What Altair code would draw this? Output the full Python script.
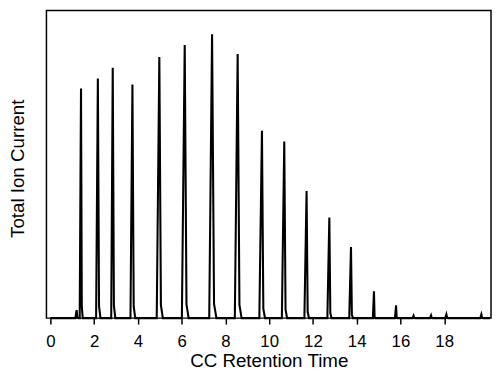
import altair as alt
import pandas as pd

# Peak retention times (min) and relative heights (% of full scale)
peak_times = [1.20, 1.40, 2.17, 2.85, 3.75, 4.98, 6.14, 7.39, 8.56, 9.67,
              10.69, 11.71, 12.75, 13.74, 14.79, 15.80, 16.6, 17.4, 18.1, 19.7]
peak_heights = [2.6, 74.7, 77.9, 81.4, 76.0, 84.9, 88.8, 92.3, 85.9, 60.9,
                57.4, 41.3, 32.7, 23.1, 8.7, 4.2, 0.8, 0.9, 1.2, 1.2]
# leading / tailing half-widths of each peak (min)
peak_lead = [0.06, 0.06, 0.08, 0.07, 0.09, 0.12, 0.13, 0.13, 0.13, 0.12,
             0.11, 0.10, 0.09, 0.08, 0.05, 0.05, 0.05, 0.05, 0.05, 0.05]
peak_tail = [0.08, 0.08, 0.12, 0.12, 0.13, 0.16, 0.18, 0.2, 0.18, 0.14,
             0.13, 0.11, 0.1, 0.09, 0.06, 0.06, 0.08, 0.08, 0.08, 0.08]

x_ticks = [0, 2, 4, 6, 8, 10, 12, 14, 16, 18]
run_start, run_end = 0.0, 20.1

rows = [(run_start, 0.0)]
for t, h, a, b in zip(peak_times, peak_heights, peak_lead, peak_tail):
    rows += [(t - a, 0.0), (t, h), (t + b * 0.45, h * 0.05), (t + b, 0.0)]
rows.append((run_end, 0.0))
df = pd.DataFrame(rows, columns=["time", "tic"])
df["order"] = range(len(df))

chart = alt.Chart(df).mark_line(color="black", strokeWidth=2.1, interpolate="linear").encode(
    x=alt.X("time:Q",
            scale=alt.Scale(domain=[-0.18, 20.14], nice=False, zero=False),
            axis=alt.Axis(title="CC Retention Time", values=x_ticks, tickSize=6,
                          tickColor="black", tickWidth=1.5, domain=False, grid=False,
                          labelFontSize=17, labelColor="black", labelPadding=10,
                          titleFontSize=19, titleFontWeight="normal", titleColor="black",
                          titleBaseline="alphabetic", titleY=49,
                          labelFont="Liberation Sans", titleFont="Liberation Sans")),
    y=alt.Y("tic:Q",
            scale=alt.Scale(domain=[0, 100], nice=False),
            axis=alt.Axis(title="Total Ion Current", labels=False, ticks=False,
                          domain=False, grid=False, titleFontSize=19,
                          titleFontWeight="normal", titleColor="black",
                          titleBaseline="alphabetic", titlePadding=23, titleY=160,
                          titleFont="Liberation Sans")),
    order="order:Q",
).properties(
    width=451, height=312,
    autosize=alt.AutoSizeParams(type="none"),
    padding={"left": 39, "top": 0, "right": 1, "bottom": 50},
).configure_view(stroke="black", strokeWidth=1.5)

chart.save("out.html", embed_options={"renderer": "svg", "actions": False})
